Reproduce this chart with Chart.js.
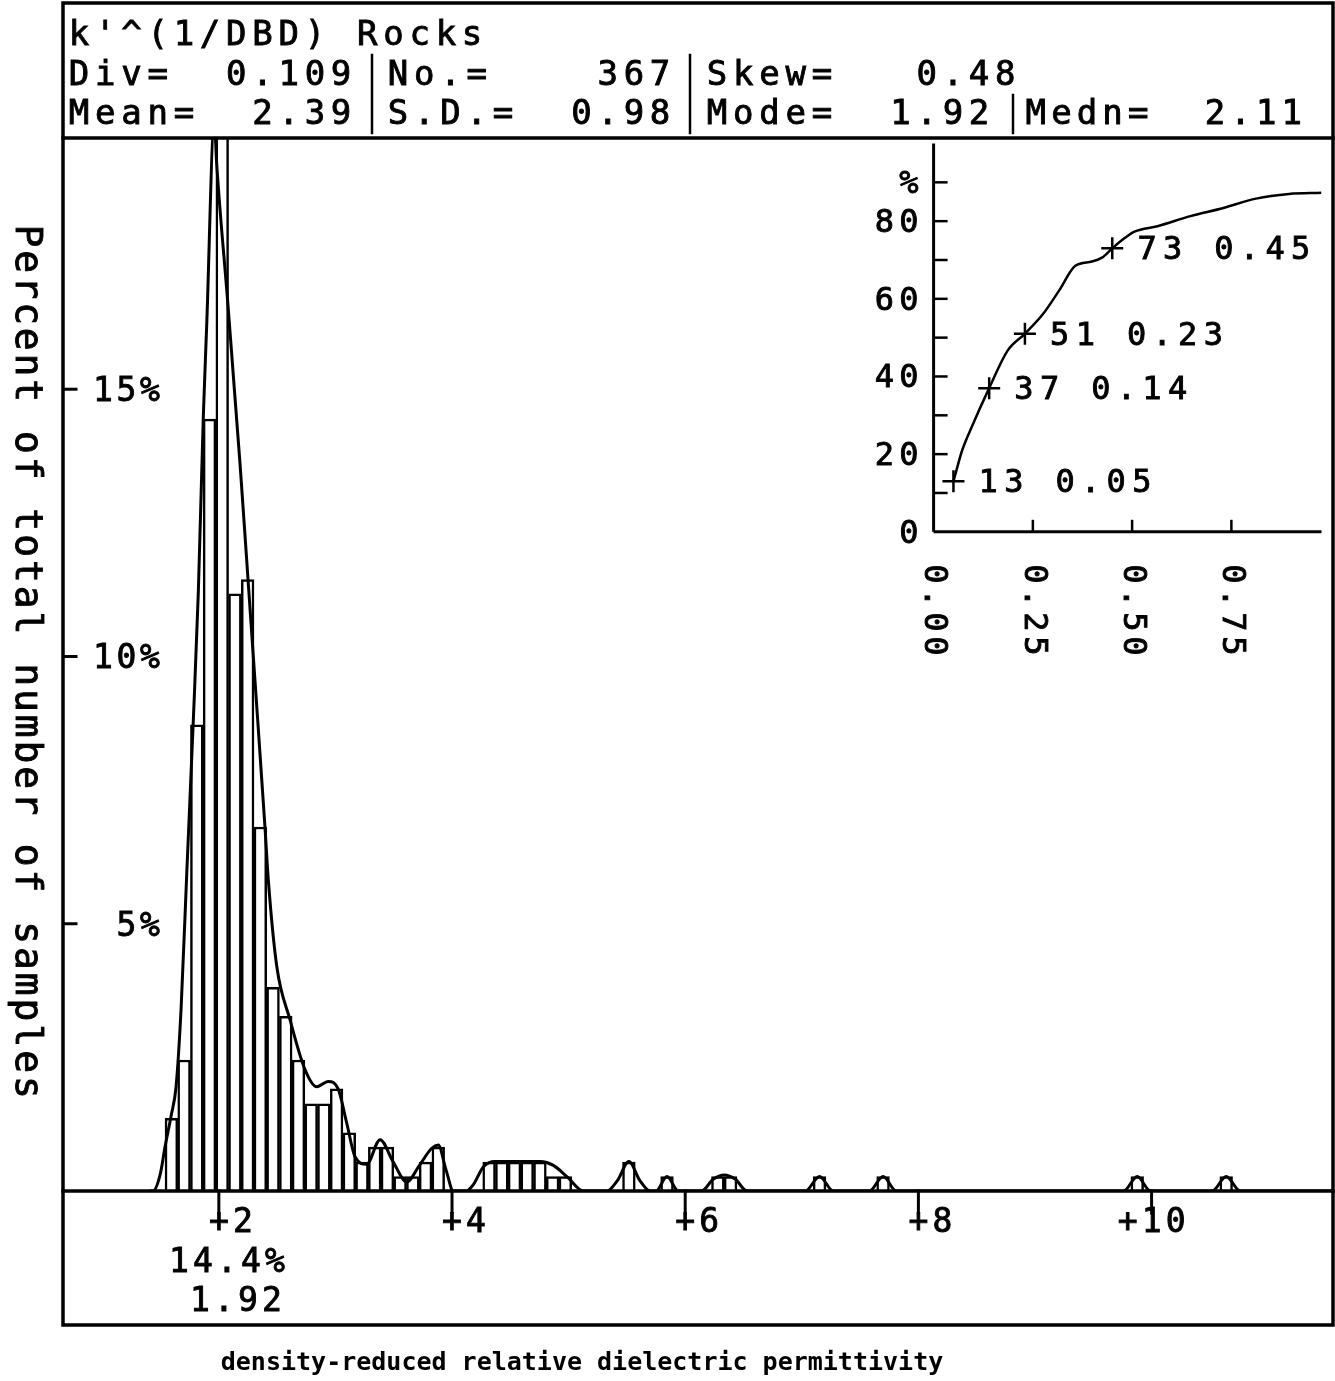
<!DOCTYPE html>
<html>
<head>
<meta charset="utf-8">
<script src="https://cdn.jsdelivr.net/npm/chart.js@4.4.0/dist/chart.umd.min.js"></script>
<style>
  html, body { margin: 0; padding: 0; background: #fff; }
  #wrap { position: relative; width: 1335px; height: 1381px; }
  #main { position: absolute; left: 0; top: 0; }
  #inset { position: absolute; left: 860px; top: 130px; }
</style>
</head>
<body>
<div id="wrap">
  <canvas id="main" width="1335" height="1381"></canvas>
  <canvas id="inset" width="475" height="560"></canvas>
</div>
<script>
// ---- histogram: bin centres (Div = 0.109) and percent of samples ----
const binCenters = [1.593, 1.702, 1.811, 1.920, 2.029, 2.138, 2.247, 2.356, 2.465, 2.574,
                    2.683, 2.792, 2.901, 3.010, 3.119, 3.228, 3.337, 3.446, 3.555, 3.664,
                    3.773, 3.882, 4.318, 4.427, 4.536, 4.645, 4.754, 4.863, 4.972, 5.517,
                    5.844, 6.280, 6.389, 7.152, 7.697, 9.877, 10.640];
const binPercent = [1.36, 2.45, 8.72, 14.44, 20.4, 11.17, 11.44, 6.81, 3.81, 3.27,
                    2.45, 1.63, 1.63, 1.91, 1.09, 0.54, 0.82, 0.82, 0.27, 0.27,
                    0.54, 0.82, 0.54, 0.54, 0.54, 0.54, 0.54, 0.27, 0.27, 0.54,
                    0.27, 0.27, 0.27, 0.27, 0.27, 0.27, 0.27];

// smoothed frequency curve drawn over the bars
const curveX = [1.40, 1.436, 1.496, 1.539, 1.590, 1.633, 1.676, 1.725, 1.781, 1.824,
                1.867, 1.896, 1.961, 1.982, 2.081, 2.182, 2.239, 2.302, 2.396, 2.425,
                2.497, 2.611, 2.739, 2.840, 2.939, 3.025, 3.097, 3.168, 3.268, 3.383,
                3.494, 3.611, 3.726, 3.826, 3.882, 3.948, 4.011, 4.120, 4.183, 4.268,
                4.369, 4.755, 4.869, 4.995, 5.126, 5.330, 5.420, 5.517, 5.610, 5.700,
                5.750, 5.844, 5.940, 6.140, 6.240, 6.335, 6.430, 6.530, 7.030, 7.152,
                7.270, 7.580, 7.697, 7.810, 9.760, 9.877, 9.990, 10.520, 10.640, 10.760,
                11.556];
const curveY = [0, 0, 0.3, 0.83, 1.4, 1.95, 3.4, 5.95, 8.8, 11.2,
                14.5, 16.2, 20.0, 19.2, 16.5, 13.6, 11.8, 9.8, 6.8, 5.8,
                4.2, 3.2, 2.27, 1.95, 2.05, 1.9, 1.27, 0.64, 0.5, 0.96,
                0.55, 0.17, 0.5, 0.8, 0.86, 0.4, 0, 0, 0.12, 0.45,
                0.55, 0.55, 0.48, 0.25, 0, 0, 0.2, 0.55, 0.2, 0,
                0, 0.27, 0, 0, 0.22, 0.3, 0.22, 0, 0, 0.27,
                0, 0, 0.27, 0, 0, 0.27, 0, 0, 0.27, 0,
                0];

const xTicks = [2, 4, 6, 8, 10];
const yTicks = [5, 10, 15];

// ---- inset: cumulative percent ----
const cumX = [0.05, 0.072, 0.096, 0.14, 0.186, 0.23, 0.275, 0.316, 0.357, 0.399,
              0.424, 0.45, 0.482, 0.506, 0.564, 0.647, 0.730, 0.812, 0.895, 0.977];
const cumY = [13, 21, 27, 37, 46.6, 51, 56, 62.1, 68.5, 69.6,
              70.6, 73, 75.7, 77.3, 78.7, 81.3, 83.4, 85.8, 87.0, 87.3];
const markX = [0.05, 0.14, 0.23, 0.45];
const markY = [13, 37, 51, 73];
const markLabels = ['13 0.05', '37 0.14', '51 0.23', '73 0.45'];
const insetYMarks = [10, 20, 30, 40, 50, 60, 70, 80, 90];
const insetYValues = [0, 20, 40, 60, 80, 90];
const insetYLabels = ['0', '20', '40', '60', '80', '%'];
const insetXValues = [0, 0.25, 0.50, 0.75];
const insetXLabels = ['0.00', '0.25', '0.50', '0.75'];

const FONT = '"DejaVu Sans Mono", monospace';

// plotter-ish glyph: fill plus a thin stroke for weight
function glyph(ctx, ch, x, y) {
  ctx.fillText(ch, x, y);
  ctx.strokeText(ch, x, y);
}
// fixed pitch text, x0 = left edge of first cell
function monoText(ctx, str, x0, y, pitch) {
  ctx.textAlign = 'center';
  for (let i = 0; i < str.length; i++) {
    if (str[i] !== ' ') glyph(ctx, str[i], x0 + pitch * (i + 0.5), y);
  }
}
// fixed pitch text, xLast = centre of last char
function monoRight(ctx, str, xLast, y, pitch) {
  ctx.textAlign = 'center';
  const n = str.length;
  for (let i = 0; i < n; i++) {
    if (str[i] !== ' ') glyph(ctx, str[i], xLast - pitch * (n - 1 - i), y);
  }
}
function line(ctx, x1, y1, x2, y2) {
  ctx.beginPath(); ctx.moveTo(x1, y1); ctx.lineTo(x2, y2); ctx.stroke();
}

const mainDecor = {
  id: 'mainDecor',
  afterDraw(chart) {
    const { ctx, chartArea: a, scales: { x, y } } = chart;
    ctx.save();
    ctx.strokeStyle = '#000';
    ctx.fillStyle = '#000';
    ctx.lineCap = 'square';
    ctx.lineWidth = 3.5;
    ctx.strokeRect(63, 3, 1333 - 63, 1325 - 3);
    line(ctx, 63, a.top, 1333, a.top);
    line(ctx, 63, a.bottom, 1333, a.bottom);

    // header
    ctx.lineWidth = 2.5;
    line(ctx, 372, 55, 372, 133);
    line(ctx, 690, 55, 690, 133);
    line(ctx, 1013, 95, 1013, 133);
    ctx.lineWidth = 0.9;
    ctx.font = '34px ' + FONT;
    ctx.textBaseline = 'alphabetic';
    monoText(ctx, "k'^(1/DBD) Rocks", 66, 45, 26.2);
    monoText(ctx, 'Div=  0.109', 66, 85, 26.2);
    monoText(ctx, 'No.=    367', 385, 85, 26.2);
    monoText(ctx, 'Skew=   0.48', 704, 85, 26.2);
    monoText(ctx, 'Mean=  2.39', 66, 124, 26.2);
    monoText(ctx, 'S.D.=  0.98', 385, 124, 26.2);
    monoText(ctx, 'Mode=  1.92', 704, 124, 26.2);
    monoText(ctx, 'Medn=  2.11', 1023, 124, 25.6);

    // y ticks
    ctx.font = '33px ' + FONT;
    yTicks.forEach(v => {
      const py = y.getPixelForValue(v);
      ctx.lineWidth = 3;
      line(ctx, a.left, py, a.left + 12, py);
      ctx.lineWidth = 0.9;
      monoRight(ctx, v + '%', 150, py + 12, 23.5);
    });
    // x ticks
    xTicks.forEach(v => {
      const px = x.getPixelForValue(v);
      ctx.lineWidth = 3;
      line(ctx, px, a.bottom, px, a.bottom + 22);
      ctx.lineWidth = 0.9;
      monoRight(ctx, '+' + v, px + 24, a.bottom + 41, 24);
    });

    // peak note
    monoRight(ctx, '14.4%', 275, 1272, 24);
    monoRight(ctx, '1.92', 272, 1311, 24);

    // y title, rotated clockwise
    ctx.font = '38px ' + FONT;
    const yt = 'Percent of total number of samples';
    for (let i = 0; i < yt.length; i++) {
      if (yt[i] === ' ') continue;
      ctx.save();
      ctx.translate(16, 236 + i * 25.8);
      ctx.rotate(Math.PI / 2);
      ctx.textAlign = 'center';
      glyph(ctx, yt[i], 0, 0);
      ctx.restore();
    }
    // x title
    ctx.font = 'bold 25px ' + FONT;
    ctx.textAlign = 'center';
    ctx.fillText('density-reduced relative dielectric permittivity', 582, 1370);
    ctx.restore();
  }
};

new Chart(document.getElementById('main'), {
  type: 'bar',
  data: {
    datasets: [
      {
        type: 'line',
        order: 1,
        data: curveX.map((v, i) => ({ x: v, y: curveY[i] })),
        borderColor: '#000',
        borderWidth: 3,
        pointRadius: 0,
        fill: false,
        cubicInterpolationMode: 'monotone'
      },
      {
        type: 'bar',
        order: 2,
        data: binCenters.map((v, i) => ({ x: v, y: binPercent[i] })),
        backgroundColor: '#fff',
        borderColor: '#000',
        borderWidth: 2.5,
        barPercentage: 1,
        categoryPercentage: 1
      }
    ]
  },
  options: {
    responsive: false,
    animation: false,
    layout: { padding: { left: 64, top: 138, right: 2, bottom: 190 } },
    plugins: { legend: { display: false }, tooltip: { enabled: false } },
    scales: {
      x: { type: 'linear', offset: false, min: 0.672, max: 11.556, display: false },
      y: { type: 'linear', min: 0, max: 19.7, display: false }
    }
  },
  plugins: [mainDecor]
});

const insetDecor = {
  id: 'insetDecor',
  afterDraw(chart) {
    const { ctx, chartArea: a, scales: { x, y } } = chart;
    ctx.save();
    ctx.strokeStyle = '#000';
    ctx.fillStyle = '#000';
    ctx.lineWidth = 3;
    line(ctx, a.left, a.top, a.left, a.bottom);
    line(ctx, a.left, a.bottom, a.right, a.bottom);
    ctx.lineWidth = 2.5;
    insetYMarks.forEach(v => {
      const py = y.getPixelForValue(v);
      line(ctx, a.left, py, a.left + 14, py);
    });
    [0.25, 0.5, 0.75].forEach(v => {
      const px = x.getPixelForValue(v);
      line(ctx, px, a.bottom, px, a.bottom - 12);
    });
    ctx.lineWidth = 0.9;
    ctx.font = '32px ' + FONT;
    ctx.textBaseline = 'alphabetic';
    insetYValues.forEach((v, i) => {
      monoRight(ctx, insetYLabels[i], 49, y.getPixelForValue(v) + 11, 24.5);
    });
    insetXValues.forEach((v, i) => {
      const px = x.getPixelForValue(v);
      const s = insetXLabels[i];
      for (let j = 0; j < s.length; j++) {
        ctx.save();
        ctx.translate(px, 444 + j * 24);
        ctx.rotate(Math.PI / 2);
        ctx.textAlign = 'center';
        ctx.textBaseline = 'middle';
        glyph(ctx, s[j], 0, 0);
        ctx.restore();
      }
    });
    markLabels.forEach((t, i) => {
      const px = x.getPixelForValue(markX[i]);
      const py = y.getPixelForValue(markY[i]);
      monoText(ctx, t, px + 22, py + 11, 25.6);
    });
    ctx.restore();
  }
};

new Chart(document.getElementById('inset'), {
  type: 'line',
  data: {
    datasets: [
      {
        data: cumX.map((v, i) => ({ x: v, y: cumY[i] })),
        borderColor: '#000',
        borderWidth: 2.5,
        pointRadius: 0,
        fill: false,
        cubicInterpolationMode: 'monotone'
      },
      {
        data: markX.map((v, i) => ({ x: v, y: markY[i] })),
        showLine: false,
        pointStyle: 'cross',
        pointRadius: 11,
        pointBorderWidth: 2.5,
        pointBorderColor: '#000'
      }
    ]
  },
  options: {
    responsive: false,
    animation: false,
    layout: { padding: { left: 73.6, top: 8, right: 2, bottom: 158.2 } },
    plugins: { legend: { display: false }, tooltip: { enabled: false } },
    scales: {
      x: { type: 'linear', min: 0, max: 0.977, display: false },
      y: { type: 'linear', min: 0, max: 100, display: false }
    }
  },
  plugins: [insetDecor]
});
</script>
</body>
</html>
